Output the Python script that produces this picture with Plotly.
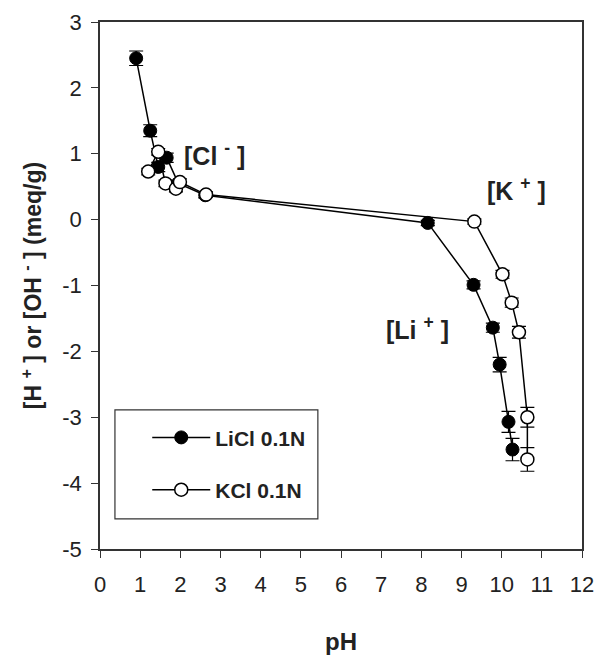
import plotly.graph_objects as go

# LiCl 0.1N (filled)
li_ph = [0.90, 1.25, 1.45, 1.66, 1.95, 2.62, 8.16, 9.30, 9.78, 9.95, 10.17, 10.27]
li_val = [2.45, 1.35, 0.80, 0.94, 0.55, 0.37, -0.05, -0.99, -1.64, -2.20, -3.07, -3.49]
li_err = [0.11, 0.09, 0.07, 0.07, 0.05, 0.04, 0.04, 0.06, 0.07, 0.11, 0.16, 0.17]

# KCl 0.1N (open)
k_ph = [1.20, 1.45, 1.63, 1.89, 1.99, 2.64, 9.32, 10.02, 10.25, 10.43, 10.64, 10.64]
k_val = [0.73, 1.03, 0.55, 0.47, 0.57, 0.38, -0.03, -0.83, -1.26, -1.71, -3.00, -3.64]
k_err = [0.05, 0.05, 0.05, 0.05, 0.05, 0.04, 0.04, 0.06, 0.07, 0.09, 0.15, 0.18]

x_ticks = list(range(0, 13))
y_ticks = list(range(-5, 4))
y_ticktext = [str(v) for v in y_ticks]

FONT = "Liberation Sans, Arial, sans-serif"

fig = go.Figure()
fig.add_trace(go.Scatter(
    x=li_ph, y=li_val, mode="lines+markers", name="<b>LiCl 0.1N</b>",
    legendgroup="a",
    line=dict(color="black", width=1.5),
    marker=dict(symbol="circle", size=13, color="black", line=dict(color="black", width=1)),
    error_y=dict(type="data", array=li_err, color="black", thickness=1.2, width=7),
))
fig.add_trace(go.Scatter(
    x=k_ph, y=k_val, mode="lines+markers", name="<b>KCl 0.1N</b>",
    legendgroup="b",
    line=dict(color="black", width=1.5),
    marker=dict(symbol="circle", size=13, color="white", line=dict(color="black", width=1.5)),
    error_y=dict(type="data", array=k_err, color="black", thickness=1.2, width=7),
))

fig.update_layout(
    width=598, height=655,
    margin=dict(l=100, r=16, t=22, b=106),
    paper_bgcolor="white", plot_bgcolor="white",
    font=dict(family=FONT, color="#222", size=22),
    showlegend=True,
    legend=dict(
        x=0.098, y=0.25, xanchor="left", yanchor="top",
        bgcolor="rgba(0,0,0,0)", borderwidth=0,
        font=dict(size=21, family=FONT, color="#222"),
        tracegroupgap=22, itemwidth=58,
    ),
    xaxis=dict(
        range=[0, 12], tickvals=x_ticks, ticks="outside", ticklen=7,
        tickcolor="#333", showline=True, linecolor="#333", linewidth=1.5,
        mirror=True, showgrid=False, zeroline=False, automargin=False,
        tickfont=dict(size=22), ticklabelstandoff=8,
        title=dict(text="<b>pH</b>", font=dict(size=24), standoff=37),
    ),
    yaxis=dict(
        range=[-5, 3], tickvals=y_ticks, ticktext=y_ticktext, ticks="outside", ticklen=7,
        tickcolor="#333", showline=True, linecolor="#333", linewidth=1.5,
        mirror=True, showgrid=False, zeroline=False, automargin=False,
        tickfont=dict(size=22), ticklabelstandoff=5,
        title=dict(text="<b>[H <sup>+</sup> ] or [OH <sup>-</sup> ] (meq/g)</b>",
                   font=dict(size=23), standoff=14),
    ),
    shapes=[dict(type="rect", xref="paper", yref="paper",
                 x0=0.031, x1=0.452, y0=0.057, y1=0.264,
                 line=dict(color="#333", width=1.2), fillcolor="rgba(0,0,0,0)")],
    annotations=[
        dict(x=2.85, y=1.0, xref="x", yref="y", text="<b>[Cl <sup>-</sup> ]</b>",
             showarrow=False, font=dict(size=25, color="#222")),
        dict(x=10.37, y=0.46, xref="x", yref="y", text="<b>[K <sup>+</sup> ]</b>",
             showarrow=False, font=dict(size=25, color="#222")),
        dict(x=7.9, y=-1.65, xref="x", yref="y", text="<b>[Li <sup>+</sup> ]</b>",
             showarrow=False, font=dict(size=25, color="#222")),
    ],
)

fig.write_html("out.html")
